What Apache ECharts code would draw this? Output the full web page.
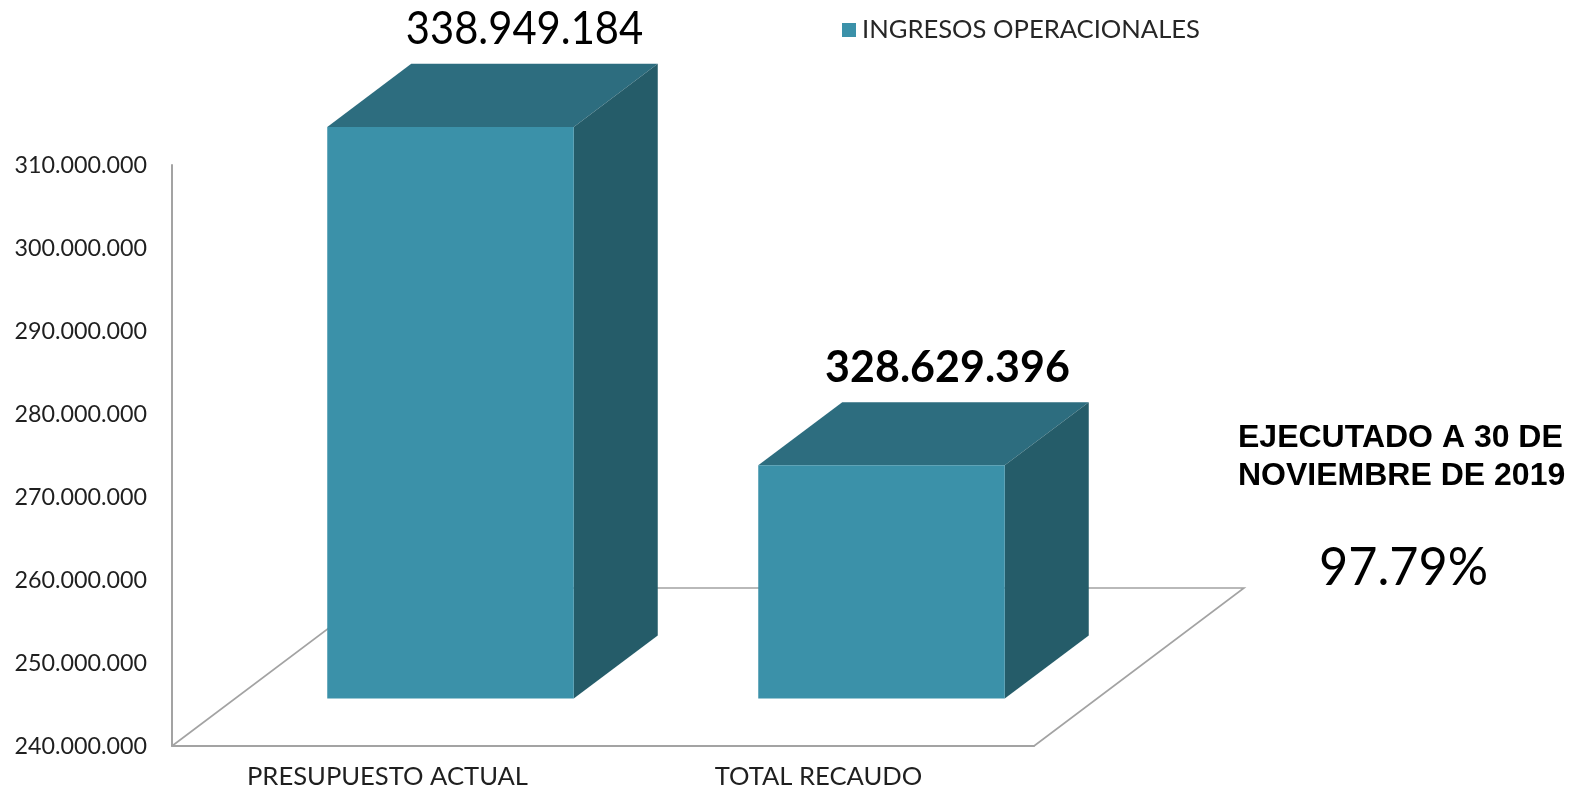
<!DOCTYPE html>
<html><head><meta charset="utf-8">
<style>html,body{margin:0;padding:0;background:#fff}#c{width:1572px;height:790px}</style>
<script src="https://cdn.jsdelivr.net/npm/echarts@6/dist/echarts.min.js"></script>
</head><body><div id="c"></div>
<script>
const categories = ['PRESUPUESTO ACTUAL', 'TOTAL RECAUDO'];
const seriesName = 'INGRESOS OPERACIONALES';
const plottedValues = [308860000, 268100000];
const labelValues = ['338.949.184', '328.629.396'];
const axisMin = 240000000, axisMax = 310000000, axisStep = 10000000;
const noteLines = 'EJECUTADO A 30 DE\nNOVIEMBRE DE 2019';
const notePercent = '97.79%';

const FLOOR_DX = 210, FLOOR_DY = 158;
const FRONT = 0.3, DEPTH = 0.4, BAR_W = 246.5;
const FACE = '#3b91a9', SIDE = '#255c69', TOP = '#2d6d7f', LINE = '#a3a3a3';
const labelStyles = [
  {font: '400 46px "Lato"', dx: -10, dy: -35, sx: 0.907},
  {font: '700 43px "Lato"', dx: -18, dy: -34, sx: 1}
];
const AXIS_FONT = 'Lato';

function renderBar(params, api) {
  const i = api.value(0);
  const top = api.coord([i, api.value(1)]);
  const base = api.coord([i, axisMin]);
  const fx = FLOOR_DX * FRONT, fy = FLOOR_DY * FRONT;
  const ox = FLOOR_DX * DEPTH, oy = FLOOR_DY * DEPTH;
  const l = top[0] + fx - BAR_W / 2, r = l + BAR_W;
  const t = top[1] - fy, b = base[1] - fy;
  const s = labelStyles[i];
  return {type: 'group', children: [
    {type: 'polygon', shape: {points: [[l, t], [r, t], [r + ox, t - oy], [l + ox, t - oy]]}, style: {fill: TOP}},
    {type: 'polygon', shape: {points: [[r, t], [r + ox, t - oy], [r + ox, b - oy], [r, b]]}, style: {fill: SIDE}},
    {type: 'rect', shape: {x: l, y: t, width: BAR_W, height: b - t}, style: {fill: FACE}},
    {type: 'text', x: (l + r + 2 * ox) / 2 + s.dx, y: t - oy + s.dy, scaleX: s.sx,
      style: {text: labelValues[i], x: 0, y: 0, font: s.font, fill: '#000', align: 'center', verticalAlign: 'middle'}}
  ]};
}

function renderFloor(params, api) {
  const c = params.coordSys;
  const x0 = c.x, y0 = c.y + c.height, x1 = c.x + c.width;
  return {type: 'polyline', shape: {points: [[x0, y0], [x0 + FLOOR_DX, y0 - FLOOR_DY], [x1 + FLOOR_DX, y0 - FLOOR_DY], [x1, y0]]},
    style: {stroke: LINE, lineWidth: 1.6, fill: null}, silent: true};
}

const chart = echarts.init(document.getElementById('c'), null, {renderer: 'canvas'});
chart.setOption({
  animation: false,
  backgroundColor: '#fff',
  grid: {left: 172, top: 165, width: 862, height: 581, containLabel: false, outerBoundsMode: 'none'},
  legend: {
    data: [{name: seriesName, icon: 'rect', itemStyle: {color: FACE}}],
    left: 837, top: 12, itemWidth: 14, itemHeight: 14, itemGap: 6,
    textStyle: {fontFamily: AXIS_FONT, fontSize: 25.6, color: '#262626', padding: [0, 0, 0, 1]}
  },
  xAxis: {type: 'category', data: categories, boundaryGap: true,
    axisLine: {lineStyle: {color: LINE, width: 2}}, axisTick: {show: false},
    axisLabel: {fontFamily: AXIS_FONT, fontSize: 25.6, color: '#1f1f1f', margin: 18}},
  yAxis: {type: 'value', min: axisMin, max: axisMax, interval: axisStep,
    axisLine: {show: true, lineStyle: {color: LINE, width: 2}}, axisTick: {show: false}, splitLine: {show: false},
    axisLabel: {fontFamily: AXIS_FONT, fontSize: 23.3, color: '#1f1f1f', margin: 25,
      formatter: v => String(v).replace(/\B(?=(\d{3})+$)/g, '.')}},
  series: [
    {type: 'custom', name: 'Piso', silent: true, renderItem: renderFloor, data: [[0, axisMin]], z: 1, encode: {x: 0, y: 1}},
    {type: 'custom', name: seriesName, renderItem: renderBar, z: 2, itemStyle: {color: FACE},
      data: plottedValues.map((v, i) => [i, v]), encode: {x: 0, y: 1}}
  ],
  graphic: [
    {type: 'text', left: 1238, top: 419, style: {text: noteLines, font: '700 32px "Liberation Sans"', lineHeight: 38, fill: '#000', align: 'center'}},
    {type: 'text', left: 1319, top: 541, scaleX: 0.95, style: {text: notePercent, font: '400 53px "Lato"', fill: '#000'}}
  ]
});
</script></body></html>
